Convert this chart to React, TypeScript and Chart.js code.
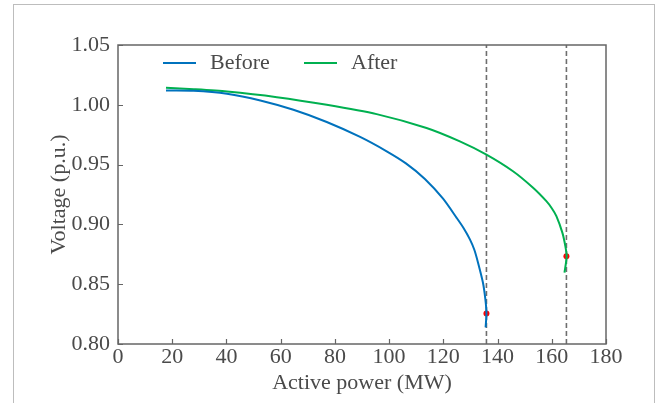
import React, { useEffect, useRef } from "react";
import { Chart, registerables } from "chart.js";

Chart.register(...registerables);

const beforeX = [17.7, 27.9, 40.2, 52.5, 64.7, 77.0, 89.3, 99.1, 106.2, 113.2, 119.9, 124.9, 127.5, 129.8, 131.4, 132.8, 134.6, 135.5, 135.9, 135.6];
const beforeY = [1.0119, 1.0117, 1.0092, 1.0036, 0.9958, 0.9856, 0.9731, 0.9611, 0.951, 0.938, 0.9215, 0.9055, 0.8968, 0.8875, 0.879, 0.868, 0.8514, 0.8375, 0.8256, 0.8139];

const afterX = [17.7, 28.0, 40.2, 58.6, 77.0, 95.4, 113.8, 126.1, 135.9, 145.7, 153.1, 158.0, 160.0, 161.7, 163.9, 165.0, 165.5, 164.7];
const afterY = [1.0142, 1.013, 1.0111, 1.0064, 1.0, 0.9922, 0.9806, 0.9694, 0.9583, 0.9444, 0.9306, 0.9194, 0.9135, 0.9069, 0.8931, 0.8819, 0.8733, 0.8597];

const limitX = [135.9, 165.4];
const limitY = [0.8256, 0.8733];

const seriesLabels = ["Before", "After"];
const seriesColors = ["#0072BD", "#00B050"];

const xTicks = [0, 20, 40, 60, 80, 100, 120, 140, 160, 180];
const yTicks = [0.8, 0.85, 0.9, 0.95, 1.0, 1.05];

const FONT = "'Liberation Serif', 'Times New Roman', serif";
const TEXT = "#4a4a4a";
const AXIS = "#666666";

const frame = {
  id: "frameAndLegend",
  afterDatasetsDraw(chart: any) {
    const { ctx, chartArea: a, scales } = chart;
    ctx.save();
    ctx.strokeStyle = AXIS;
    ctx.lineWidth = 1.2;
    ctx.beginPath();
    xTicks.forEach((t) => {
      const px = Math.round(scales.x.getPixelForValue(t)) + 0.5;
      ctx.moveTo(px, a.bottom);
      ctx.lineTo(px, a.bottom - 5);
    });
    yTicks.forEach((t) => {
      const py = Math.round(scales.y.getPixelForValue(t)) + 0.5;
      ctx.moveTo(a.left, py);
      ctx.lineTo(a.left + 5, py);
    });
    ctx.stroke();
    ctx.lineWidth = 1.5;
    ctx.strokeRect(a.left, a.top, a.right - a.left, a.bottom - a.top);
    const lx = [163, 304];
    const ly = 63;
    ctx.font = `22px ${FONT}`;
    ctx.textBaseline = "middle";
    ctx.textAlign = "left";
    seriesLabels.forEach((lab, i) => {
      ctx.strokeStyle = seriesColors[i];
      ctx.lineWidth = 2;
      ctx.beginPath();
      ctx.moveTo(lx[i], ly);
      ctx.lineTo(lx[i] + 33, ly);
      ctx.stroke();
      ctx.fillStyle = TEXT;
      ctx.fillText(lab, lx[i] + 47, ly);
    });
    ctx.restore();
  },
};

export default function App() {
  const ref = useRef<HTMLCanvasElement>(null);
  useEffect(() => {
    if (!ref.current) return;
    const pts = (xs: number[], ys: number[]) => xs.map((x, i) => ({ x, y: ys[i] }));
    const chart = new Chart(ref.current, {
      type: "scatter",
      data: {
        datasets: [
          {
            label: seriesLabels[0],
            data: pts(beforeX, beforeY),
            showLine: true,
            borderColor: seriesColors[0],
            borderWidth: 2,
            pointRadius: 0,
            tension: 0.25,
          },
          {
            label: seriesLabels[1],
            data: pts(afterX, afterY),
            showLine: true,
            borderColor: seriesColors[1],
            borderWidth: 2,
            pointRadius: 0,
            tension: 0.25,
          },
          ...limitX.map((lx) => ({
            label: "limit",
            data: [
              { x: lx, y: yTicks[0] },
              { x: lx, y: yTicks[yTicks.length - 1] },
            ],
            showLine: true,
            borderColor: "#6e6e6e",
            borderWidth: 1.6,
            borderDash: [5, 3],
            pointRadius: 0,
          })),
          {
            label: "points",
            data: pts(limitX, limitY),
            showLine: false,
            pointRadius: 3,
            pointBackgroundColor: "#ff0000",
            pointBorderWidth: 0,
          },
        ],
      },
      options: {
        animation: false,
        responsive: false,
        devicePixelRatio: 1,
        layout: { padding: { left: 40, right: 50, top: 45, bottom: 0 } },
        plugins: { legend: { display: false }, tooltip: { enabled: false } },
        scales: {
          x: {
            type: "linear",
            min: 0,
            max: 180,
            afterFit: (s: any) => {
              s.height = 59;
            },
            afterBuildTicks: (s: any) => {
              s.ticks = xTicks.map((v) => ({ value: v }));
            },
            grid: { display: false, drawTicks: false },
            border: { display: false },
            ticks: {
              font: { family: FONT, size: 22 },
              color: TEXT,
              padding: 0,
              maxRotation: 0,
              autoSkip: false,
            },
            title: {
              display: true,
              text: "Active power (MW)",
              font: { family: FONT, size: 22 },
              color: TEXT,
              padding: { top: 0, bottom: 7 },
            },
          },
          y: {
            type: "linear",
            min: 0.8,
            max: 1.05,
            afterFit: (s: any) => {
              s.width = 78;
            },
            afterBuildTicks: (s: any) => {
              s.ticks = yTicks.map((v) => ({ value: v }));
            },
            grid: { display: false, drawTicks: false },
            border: { display: false },
            ticks: {
              font: { family: FONT, size: 22 },
              color: TEXT,
              padding: 8,
              autoSkip: false,
              callback: (v: any) => Number(v).toFixed(2),
            },
            title: {
              display: true,
              text: "Voltage (p.u.)",
              font: { family: FONT, size: 22 },
              color: TEXT,
              padding: { top: 6, bottom: 0 },
            },
          },
        },
      },
      plugins: [frame],
    });
    return () => chart.destroy();
  }, []);

  return (
    <div style={{ position: "fixed", left: 0, top: 0, width: 656, height: 403, background: "#fff", overflow: "hidden" }}>
      <div
        style={{
          position: "absolute",
          left: 13,
          top: 4,
          width: 642,
          height: 420,
          boxSizing: "border-box",
          border: "1px solid #bdbdbd",
        }}
      />
      <canvas ref={ref} width={656} height={403} style={{ position: "absolute", left: 0, top: 0, width: 656, height: 403 }} />
    </div>
  );
}
